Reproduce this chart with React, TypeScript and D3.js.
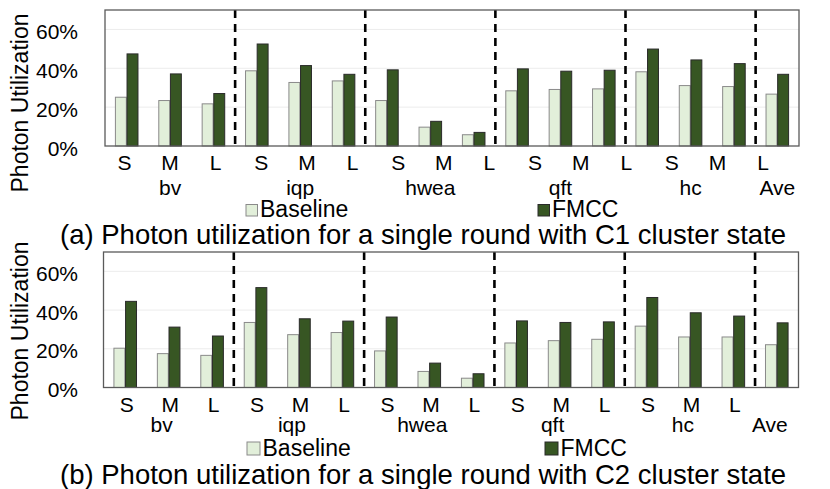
import React from 'react';
import * as d3 from 'd3';

// benchmark groups and circuit sizes
const benchmarks = ['bv', 'iqp', 'hwea', 'qft', 'hc'];
const sizes = ['S', 'M', 'L'];
const categories = [...benchmarks.flatMap(b => sizes.map(s => `${b}-${s}`)), 'Ave'];

// photon utilization (%)
const baselineC1 = [25.1, 23.4, 21.7, 38.7, 32.7, 33.5, 23.4, 9.7, 5.8, 28.4, 29.1, 29.4, 38.2, 31.1, 30.6, 26.7];
const fmccC1 = [47.4, 37.1, 27.0, 52.5, 41.4, 36.9, 39.2, 12.7, 7.0, 39.7, 38.5, 39.0, 49.9, 44.3, 42.4, 36.9];
const baselineC2 = [20.3, 17.5, 16.6, 33.6, 27.3, 28.4, 18.9, 8.3, 4.8, 23.0, 24.2, 24.9, 31.7, 26.1, 26.1, 22.1];
const fmccC2 = [44.5, 31.2, 26.6, 51.6, 35.5, 34.3, 36.4, 12.6, 7.1, 34.4, 33.6, 33.9, 46.5, 38.6, 36.9, 33.4];

const yTicks = [0, 20, 40, 60];
const seriesKeys = ['Baseline', 'FMCC'];

const FONT = '"Liberation Sans", Arial, Helvetica, sans-serif';
const LIGHT = '#e2efda';
const DARK = '#375623';

interface PanelProps {
  baseline: number[];
  fmcc: number[];
  top: number;
  bottom: number;
  left: number;
  right: number;
  yLabelCenter: number;
  tickDrift: number;
  tickShift: number;
  catShift: number;
  tickY: number;
  catY: number;
  legendY: number;
  legendX: number[];
  squareSize: number;
  captionY: number;
  caption: string;
}

const Panel: React.FC<PanelProps> = p => {
  const x = d3.scaleBand<string>()
    .domain(categories)
    .range([p.left, p.right])
    .paddingInner(0.48)
    .paddingOuter(0.24);
  const x1 = d3.scaleBand<string>()
    .domain(seriesKeys)
    .range([0, x.bandwidth()])
    .paddingInner(0.06);
  const y = d3.scaleLinear().domain([0, 70]).range([p.bottom, p.top]);
  const step = x.step();
  const center = (i: number) => (x(categories[i]) || 0) + x.bandwidth() / 2;

  // size labels S/M/L under the first 15 slots
  const sizeLabels = benchmarks.flatMap(() => sizes);
  const catLabels = [...benchmarks.map((b, i) => ({ t: b, i: i * 3 + 1 })), { t: 'Ave', i: 15 }];

  return (
    <g fontFamily={FONT}>
      {/* grid */}
      {yTicks.filter(t => t > 0).map(t => (
        <line key={t} x1={p.left} x2={p.right} y1={y(t)} y2={y(t)} stroke="#ececec" strokeWidth={1} />
      ))}
      {/* bars */}
      {categories.map((c, i) => (
        <g key={c}>
          <rect x={(x(c) || 0) + (x1('Baseline') || 0)} y={y(p.baseline[i])} width={x1.bandwidth()}
            height={y(0) - y(p.baseline[i])} fill={LIGHT} stroke="#8a8a8a" strokeWidth={1} />
          <rect x={(x(c) || 0) + (x1('FMCC') || 0)} y={y(p.fmcc[i])} width={x1.bandwidth()}
            height={y(0) - y(p.fmcc[i])} fill={DARK} stroke="#2a2a2a" strokeWidth={1} />
        </g>
      ))}
      {/* dashed separators */}
      {[3, 6, 9, 12, 15].map(k => (
        <line key={k} x1={p.left + k * step} x2={p.left + k * step} y1={p.top} y2={p.bottom}
          stroke="#000" strokeWidth={2.6} strokeDasharray="8,6" />
      ))}
      {/* frame */}
      <rect x={p.left} y={p.top} width={p.right - p.left} height={p.bottom - p.top}
        fill="none" stroke="#5a5a5a" strokeWidth={1.3} />
      {/* y ticks */}
      {yTicks.map(t => (
        <text key={t} x={78} y={y(t) + 9.5} textAnchor="end" fontSize={21}>{t}%</text>
      ))}
      <text transform={`translate(28,${p.yLabelCenter}) rotate(-90)`} textAnchor="middle" fontSize={23}>
        Photon Utilization
      </text>
      {/* x labels */}
      {sizeLabels.map((s, i) => (
        <text key={i} x={center(i) + p.tickShift + p.tickDrift * i} y={p.tickY} textAnchor="middle" fontSize={21}>{s}</text>
      ))}
      {catLabels.map(c => (
        <text key={c.t} x={center(c.i) + p.catShift} y={p.catY} textAnchor="middle" fontSize={21}>{c.t}</text>
      ))}
      {/* legend */}
      {seriesKeys.map((k, i) => {
        const lx = p.legendX[i];
        return (
          <g key={k}>
            <rect x={lx} y={p.legendY - p.squareSize - 1} width={p.squareSize} height={p.squareSize}
              fill={i === 0 ? LIGHT : DARK} stroke={i === 0 ? '#8a8a8a' : '#2a2a2a'} strokeWidth={1} />
            <text x={lx + p.squareSize + 2.5} y={p.legendY} fontSize={23}>{k}</text>
          </g>
        );
      })}
      <text x={60} y={p.captionY} fontSize={27.5}>{p.caption}</text>
    </g>
  );
};

const App: React.FC = () => (
  <div style={{ position: 'absolute', left: 0, top: 0 }}>
    <svg width={830} height={489} style={{ display: 'block', background: '#fff' }}>
      <Panel baseline={baselineC1} fmcc={fmccC1} top={10} bottom={146} left={105} right={799}
        yLabelCenter={103} tickDrift={2.24} tickShift={-2.2} catShift={0} tickY={170} catY={195}
        legendY={217} legendX={[246, 538]} squareSize={11.5} captionY={243.5}
        caption="(a) Photon utilization for a single round with C1 cluster state" />
      <Panel baseline={baselineC2} fmcc={fmccC2} top={252} bottom={387.5} left={103.5} right={798.5}
        yLabelCenter={331} tickDrift={0} tickShift={1.6} catShift={-7} tickY={411.5} catY={431.5}
        legendY={456} legendX={[247, 545]} squareSize={13} captionY={483.5}
        caption="(b) Photon utilization for a single round with C2 cluster state" />
    </svg>
  </div>
);

export default App;
